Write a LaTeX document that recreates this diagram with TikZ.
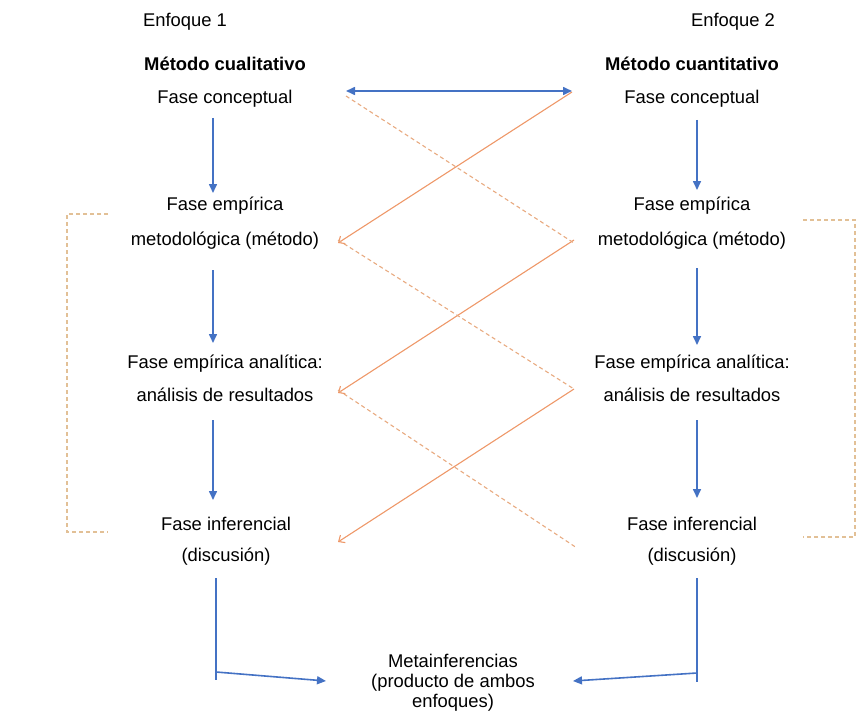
\documentclass[tikz,border=0pt]{standalone}
\usepackage{fontspec}
\setmainfont{Liberation Sans}
\usetikzlibrary{arrows.meta}
\definecolor{cblue}{RGB}{68,114,196}
\definecolor{corange}{RGB}{238,152,105}
\definecolor{cdash}{RGB}{232,170,128}
\definecolor{cbracket}{RGB}{226,192,150}
\begin{document}
\begin{tikzpicture}[x=1pt,y=-1pt,
  txt/.style={font=\fontsize{18.4}{22}\selectfont, inner sep=0pt, anchor=base, text=black},
  btxt/.style={txt, font=\fontsize{18.4}{22}\selectfont\bfseries},
  blueline/.style={draw=cblue, line width=1.6pt},
  bluearrow/.style={blueline, -{Triangle[length=9pt,width=8pt]}},
  bluedouble/.style={blueline, {Triangle[length=9pt,width=8pt]}-{Triangle[length=9pt,width=8pt]}},
  orarrow/.style={draw=corange, line width=1.1pt, -{Straight Barb[length=5pt,width=9pt]}},
  ordash/.style={draw=cdash, line width=1.1pt, dash pattern=on 4pt off 3pt},
  bracket/.style={draw=cbracket, line width=1.1pt, dash pattern=on 4pt off 3pt}]
\useasboundingbox (0,0) rectangle (863,717);

% texts
\node[txt] (e1) at (185,27) {Enfoque 1};
\node[txt] (e2) at (733,27) {Enfoque 2};
\node[btxt] (m1) at (225,71) {Método cualitativo};
\node[btxt] (m2) at (692,71) {Método cuantitativo};
\node[txt] (c1) at (225,103) {Fase conceptual};
\node[txt] (c2) at (692,103) {Fase conceptual};
\node[txt] (p1a) at (225,210) {Fase empírica};
\node[txt] (p1b) at (225,245) {metodológica (método)};
\node[txt] (p2a) at (692,210) {Fase empírica};
\node[txt] (p2b) at (692,245) {metodológica (método)};
\node[txt] (a1a) at (225,368) {Fase empírica analítica:};
\node[txt] (a1b) at (225,401) {análisis de resultados};
\node[txt] (a2a) at (692,368) {Fase empírica analítica:};
\node[txt] (a2b) at (692,401) {análisis de resultados};
\node[txt] (i1a) at (226,530) {Fase inferencial};
\node[txt] (i1b) at (226,561) {(discusión)};
\node[txt] (i2a) at (692,530) {Fase inferencial};
\node[txt] (i2b) at (692,561) {(discusión)};
\node[txt, font=\fontsize{18.4}{22}\selectfont] (mt1) at (453,667) {Metainferencias};
\node[txt, font=\fontsize{18.4}{22}\selectfont] (mt2) at (453,687) {(producto de ambos};
\node[txt, font=\fontsize{18.4}{22}\selectfont] (mt3) at (453,707) {enfoques)};

% anchor coordinates
\coordinate (c1r) at (346,91);
\coordinate (c2l) at (572,91);
\coordinate (c1d) at (213,118); \coordinate (p1u) at (213,193);
\coordinate (p1d) at (213,270); \coordinate (a1u) at (213,343);
\coordinate (a1d) at (213,420); \coordinate (i1u) at (213,500);
\coordinate (c2d) at (697,120); \coordinate (p2u) at (697,190);
\coordinate (p2d) at (697,268); \coordinate (a2u) at (697,345);
\coordinate (a2d) at (697,420); \coordinate (i2u) at (697,498);

\coordinate (L0) at (346,96);
\coordinate (L1) at (338,243);
\coordinate (L2) at (338,393);
\coordinate (L3) at (338,542);
\coordinate (R0) at (572,92);
\coordinate (R1) at (574,240);
\coordinate (R2) at (574,389);
\coordinate (R3) at (577,548);

% blue arrows
\draw[bluedouble] (c1r) -- (c2l);
\draw[bluearrow] (c1d) -- (p1u);
\draw[bluearrow] (p1d) -- (a1u);
\draw[bluearrow] (a1d) -- (i1u);
\draw[bluearrow] (c2d) -- (p2u);
\draw[bluearrow] (p2d) -- (a2u);
\draw[bluearrow] (a2d) -- (i2u);

% orange crossings
\draw[orarrow] (R0) -- (L1);
\draw[orarrow] (R1) -- (L2);
\draw[orarrow] (R2) -- (L3);
\draw[ordash] (L0) -- ([yshift=-3pt]R1);
\draw[ordash] ([yshift=3pt]L1) -- (R2);
\draw[ordash] ([yshift=3pt]L2) -- (R3);

% brackets
\coordinate (bl1) at (108,214); \coordinate (bl2) at (67,214);
\coordinate (bl3) at (67,532); \coordinate (bl4) at (108,532);
\coordinate (br1) at (803,220); \coordinate (br2) at (855,220);
\coordinate (br3) at (855,537); \coordinate (br4) at (803,537);
\draw[bracket] (bl1) -- (bl2) -- (bl3) -- (bl4);
\draw[bracket] (br1) -- (br2) -- (br3) -- (br4);

% bottom connectors
\coordinate (lt) at (216,578); \coordinate (lb) at (216,680); \coordinate (lj) at (216,672);
\coordinate (rt) at (697,578); \coordinate (rb) at (697,682); \coordinate (rj) at (697,673);
\coordinate (mtl) at (326,681); \coordinate (mtr) at (573,681);
\draw[blueline] (lt) -- (lb);
\draw[blueline] (rt) -- (rb);
\draw[bluearrow] (lj) -- (mtl);
\draw[bluearrow] (rj) -- (mtr);
\end{tikzpicture}
\end{document}
